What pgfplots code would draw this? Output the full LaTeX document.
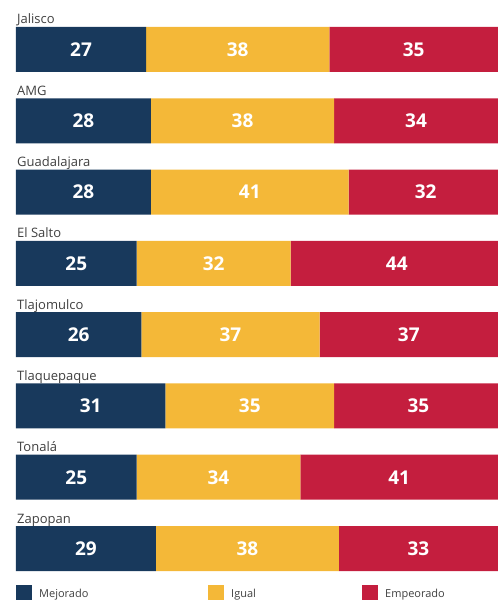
\documentclass[border=0pt]{standalone}
\usepackage{pgfplots}
\pgfplotsset{compat=1.18}
\usepackage{pgfplotstable}
\usepackage{fontspec}
\setmainfont{Open Sans}
\definecolor{navy}{HTML}{18395C}
\definecolor{gold}{HTML}{F4B838}
\definecolor{crim}{HTML}{C41E3E}
\definecolor{lab}{HTML}{404040}
\pgfplotstableread{
i m g e
0 27 38 35
1 28 38 34
2 28 41 32
3 25 32 44
4 26 37 37
5 31 35 35
6 25 34 41
7 29 38 33
}\data
\begin{document}
\begin{tikzpicture}
\useasboundingbox (-16pt,0pt) rectangle (482pt,600pt);
\begin{axis}[
  at={(0pt,0pt)}, anchor=south west,
  scale only axis, width=482pt, height=600pt,
  xmin=0, xmax=100, ymin=-0.6943, ymax=7.7222, y dir=reverse,
  hide axis, clip=false, xbar stacked, bar width=45pt,
  /pgf/number format/assume math mode=true,
  nodes near coords={\pgfmathprintnumber{\pgfplotspointmeta}},
  every node near coord/.append style={anchor=center, text=white,
    font=\bfseries\fontsize{19}{19}\selectfont},
  legend columns=3,
  legend style={at={(axis cs:0,7.512)}, anchor=north west, draw=none, fill=none,
    inner sep=0pt, font=\fontsize{11}{12}\selectfont, text=lab,
    nodes={inner sep=0pt, anchor=base west},
    /tikz/every odd column/.append style={column sep=7pt}},
  legend image code/.code={\path[#1, draw=none] (0pt,-4pt) rectangle (16pt,12pt);},
]
\addplot[fill=navy, draw=none] table[x=m, y=i] {\data};
\addlegendentry{\makebox[169pt][l]{Mejorado}}
\addplot[fill=gold, draw=none] table[x=g, y=i] {\data};
\addlegendentry{\makebox[131pt][l]{Igual}}
\addplot[fill=crim, draw=none] table[x=e, y=i] {\data};
\addlegendentry{Empeorado}
\node[anchor=base west, inner sep=0pt, text=lab, font=\fontsize{13}{13}\selectfont, yshift=25.5pt, xshift=1pt] at (axis cs:0,0) {Jalisco};
\node[anchor=base west, inner sep=0pt, text=lab, font=\fontsize{13}{13}\selectfont, yshift=25.5pt, xshift=1pt] at (axis cs:0,1) {AMG};
\node[anchor=base west, inner sep=0pt, text=lab, font=\fontsize{13}{13}\selectfont, yshift=25.5pt, xshift=1pt] at (axis cs:0,2) {Guadalajara};
\node[anchor=base west, inner sep=0pt, text=lab, font=\fontsize{13}{13}\selectfont, yshift=25.5pt, xshift=1pt] at (axis cs:0,3) {El Salto};
\node[anchor=base west, inner sep=0pt, text=lab, font=\fontsize{13}{13}\selectfont, yshift=25.5pt, xshift=1pt] at (axis cs:0,4) {Tlajomulco};
\node[anchor=base west, inner sep=0pt, text=lab, font=\fontsize{13}{13}\selectfont, yshift=25.5pt, xshift=1pt] at (axis cs:0,5) {Tlaquepaque};
\node[anchor=base west, inner sep=0pt, text=lab, font=\fontsize{13}{13}\selectfont, yshift=25.5pt, xshift=1pt] at (axis cs:0,6) {Tonalá};
\node[anchor=base west, inner sep=0pt, text=lab, font=\fontsize{13}{13}\selectfont, yshift=25.5pt, xshift=1pt] at (axis cs:0,7) {Zapopan};
\end{axis}
\end{tikzpicture}
\end{document}
